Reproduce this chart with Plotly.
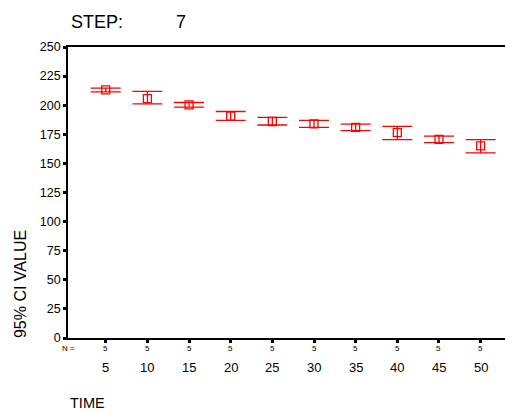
import plotly.graph_objects as go

time_labels = ["5", "10", "15", "20", "25", "30", "35", "40", "45", "50"]
means = [213.2, 205.7, 200.3, 190.7, 186.0, 184.0, 180.9, 176.4, 170.7, 165.0]
upper = [214.6, 211.8, 202.3, 194.6, 189.5, 186.9, 183.8, 181.8, 173.5, 170.4]
lower = [211.5, 201.2, 198.4, 186.9, 183.0, 180.9, 178.1, 170.4, 167.8, 159.0]
n_counts = [5, 5, 5, 5, 5, 5, 5, 5, 5, 5]
y_ticks = [0, 25, 50, 75, 100, 125, 150, 175, 200, 225, 250]

FONT = "Liberation Sans, Arial, sans-serif"
RED = "#FF0000"
xs = list(range(len(time_labels)))

L, R, T, B = 68, 0, 47, 73.5
W, H = 505, 412


def px_x(x):
    return (x - L) / (W - L - R)


def px_y(y):
    return (H - B - y) / (H - T - B)


fig = go.Figure()
fig.add_trace(go.Scatter(
    x=xs, y=means, mode="markers",
    marker=dict(symbol="square-open", size=8, color=RED, line=dict(width=1.3, color=RED)),
    error_y=dict(type="data", symmetric=False,
                 array=[u - m for u, m in zip(upper, means)],
                 arrayminus=[m - l for m, l in zip(means, lower)],
                 color=RED, thickness=1.3, width=15),
    showlegend=False, hoverinfo="skip",
))

fig.update_layout(
    width=W, height=H,
    margin=dict(l=L, r=R, t=T, b=B, pad=0),
    paper_bgcolor="white", plot_bgcolor="white",
    font=dict(family=FONT, color="black"),
    xaxis=dict(range=[-0.906, 9.585], tickvals=xs, ticktext=[""] * len(xs),
               showgrid=False, zeroline=False, showline=True, linecolor="black",
               linewidth=1.8, mirror=True, ticks="outside", ticklen=3, tickwidth=2.5,
               tickcolor="black", fixedrange=True),
    yaxis=dict(range=[0, 250], tickvals=y_ticks, showgrid=False, zeroline=False,
               showline=True, linecolor="black", linewidth=1.8, ticks="outside",
               ticklen=3, tickwidth=2.5, tickcolor="black",
               tickfont=dict(family=FONT, size=12.5, color="black"), fixedrange=True),
)

for i, (lab, n) in enumerate(zip(time_labels, n_counts)):
    fig.add_annotation(x=i, y=px_y(349), xref="x", yref="paper", text=str(n),
                       showarrow=False, yanchor="middle", xanchor="center",
                       font=dict(family=FONT, size=8, color="black"))
    fig.add_annotation(x=i, y=px_y(368), xref="x", yref="paper", text=lab,
                       showarrow=False, yanchor="middle", xanchor="center",
                       font=dict(family=FONT, size=13, color="black"))
fig.add_annotation(x=px_x(68), y=px_y(349), xref="paper", yref="paper", text="N =",
                   showarrow=False, xanchor="center", yanchor="middle",
                   font=dict(family=FONT, size=8, color="black"))
fig.add_annotation(x=px_x(69), y=px_y(22), xref="paper", yref="paper", text="STEP:",
                   showarrow=False, xanchor="left", yanchor="middle",
                   font=dict(family=FONT, size=18, color="black"))
fig.add_annotation(x=px_x(181), y=px_y(22), xref="paper", yref="paper", text="7",
                   showarrow=False, xanchor="center", yanchor="middle",
                   font=dict(family=FONT, size=18, color="black"))
fig.add_annotation(x=px_x(20.5), y=px_y(285), xref="paper", yref="paper", text="95% CI VALUE",
                   showarrow=False, xanchor="center", yanchor="middle", textangle=-90,
                   font=dict(family=FONT, size=16, color="black"))
fig.add_annotation(x=px_x(68), y=px_y(404), xref="paper", yref="paper", text="TIME",
                   showarrow=False, xanchor="left", yanchor="middle",
                   font=dict(family=FONT, size=14.5, color="black"))

fig.write_html("out.html", config={"displayModeBar": False},
               post_script="document.body.style.margin='0';document.body.style.overflow='hidden';")
